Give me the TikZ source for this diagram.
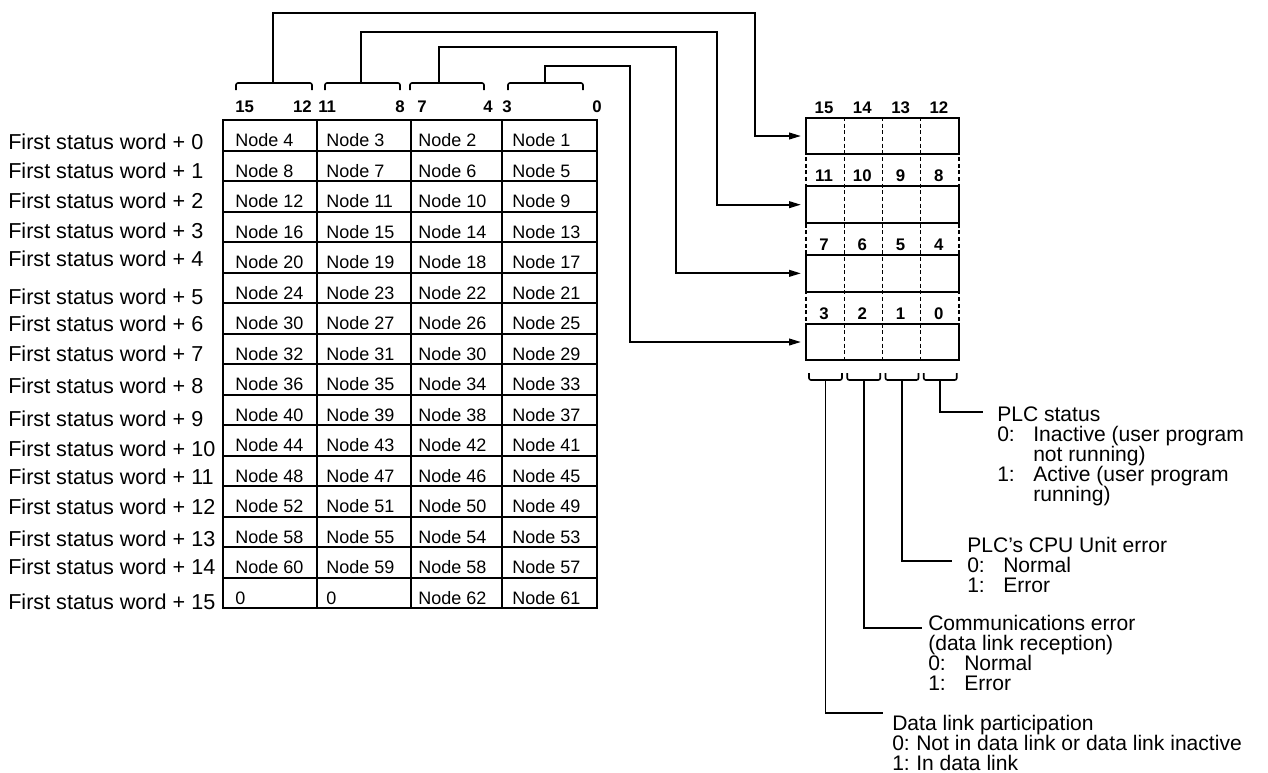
\documentclass[tikz,border=0pt]{standalone}
\usepackage{fontspec}
\setmainfont{Liberation Sans}
\usetikzlibrary{arrows.meta}
\newcommand\notefont{\fontsize{15.8}{15}\selectfont\lineskiplimit=-30pt\relax}
\newcommand\labelfont{\fontsize{16.2}{18}\selectfont}
\newcommand\cellfont{\fontsize{13.5}{16}\selectfont}
\newcommand\bitfont{\fontsize{12.6}{14}\selectfont\bfseries}
\newcommand\opt[3][27pt]{\makebox[#1][l]{#2:}#3}
\tikzset{
  grid line/.style={line width=1.5pt},
  brace line/.style={line width=1.2pt,rounded corners=1.5pt},
  feed/.style={line width=1.4pt,-{Triangle[length=9pt,width=5pt]},shorten >=3pt},
  lead/.style={line width=1.4pt},
  bitbox/.style={draw,line width=1.5pt,minimum width=114.75pt,minimum height=27.5pt,inner sep=0pt},
  dashline/.style={line width=1.1pt,dash pattern=on 3pt off 2pt},
  cell/.style={font=\cellfont,inner sep=0pt,anchor=base west},
  bitnum/.style={font=\bitfont,inner sep=0pt},
  rowlabel/.style={font=\labelfont,inner sep=0pt,anchor=base west},
  note/.style={align=left,font=\notefont,inner sep=0pt,anchor=base west}
}
\begin{document}
\begin{tikzpicture}[x=0.75pt,y=-0.75pt]
  \useasboundingbox (0,0) rectangle (1268,772);
  \draw[grid line] (223,120) rectangle (597,608);
  \foreach \x in {317,411,502} \draw[grid line] (\x,120) -- (\x,608);
  \foreach \r in {1,...,15} \draw[grid line] (223,{120+30.5*\r}) -- (597,{120+30.5*\r});
  \foreach \r/\a/\b/\c/\d in {0/Node 4/Node 3/Node 2/Node 1,1/Node 8/Node 7/Node 6/Node 5,
      2/Node 12/Node 11/Node 10/Node 9,3/Node 16/Node 15/Node 14/Node 13,
      4/Node 20/Node 19/Node 18/Node 17,5/Node 24/Node 23/Node 22/Node 21,
      6/Node 30/Node 27/Node 26/Node 25,7/Node 32/Node 31/Node 30/Node 29,
      8/Node 36/Node 35/Node 34/Node 33,9/Node 40/Node 39/Node 38/Node 37,
      10/Node 44/Node 43/Node 42/Node 41,11/Node 48/Node 47/Node 46/Node 45,
      12/Node 52/Node 51/Node 50/Node 49,13/Node 58/Node 55/Node 54/Node 53,
      14/Node 60/Node 59/Node 58/Node 57,15/0/0/Node 62/Node 61}{
    \pgfmathsetmacro\yb{120+30.5*(\r+1)-4}
    \node[cell] (n\r-a) at (235,\yb) {\a};
    \node[cell] (n\r-b) at (326,\yb) {\b};
    \node[cell] (n\r-c) at (418,\yb) {\c};
    \node[cell] (n\r-d) at (512,\yb) {\d};
  }
  \foreach \r/\yb in {0/149,1/178,2/208,3/238,4/266,5/304,6/331,7/361,8/393,9/426,
      10/456,11/484,12/514,13/546,14/574,15/609}
    \node[rowlabel] (w\r) at (8,\yb) {First status word + \r};
  \node[bitnum,anchor=base west] (t15) at (235,112) {15};
  \node[bitnum,anchor=base east] (t12) at (312,112) {12};
  \node[bitnum,anchor=base west] (t11) at (318,112) {11};
  \node[bitnum,anchor=base east] (t8) at (405,112) {8};
  \node[bitnum,anchor=base west] (t7) at (417,112) {7};
  \node[bitnum,anchor=base east] (t4) at (493,112) {4};
  \node[bitnum,anchor=base west] (t3) at (502,112) {3};
  \node[bitnum,anchor=base east] (t0) at (602,112) {0};
  \draw[brace line] (236,90) |- (273,83) -| (312,90);
  \draw[brace line] (325,90) |- (361,83) -| (400,90);
  \draw[brace line] (410,90) |- (439,83) -| (484,90);
  \draw[brace line] (508,90) |- (545,83) -| (583,90);
  \coordinate (tipA) at (273,83);
  \coordinate (tipB) at (361,83);
  \coordinate (tipC) at (439,83);
  \coordinate (tipD) at (545,83);
  \foreach \x in {806,844.25,882.5,920.75,959} \draw[dashline] (\x,117) -- (\x,360);
  \foreach \r in {0,...,3} \node[bitbox] (row\r) at (882.5,{136+68.67*\r}) {};
  \foreach \r/\a/\b/\c/\d in {0/15/14/13/12,1/11/10/9/8,2/7/6/5/4,3/3/2/1/0}{
    \node[bitnum,anchor=base] (r\r-a) at ([xshift=14.3pt,yshift=2.6pt]row\r.north west) {\a};
    \node[bitnum,anchor=base] (r\r-b) at ([xshift=43pt,yshift=2.6pt]row\r.north west) {\b};
    \node[bitnum,anchor=base] (r\r-c) at ([xshift=71.7pt,yshift=2.6pt]row\r.north west) {\c};
    \node[bitnum,anchor=base] (r\r-d) at ([xshift=100.4pt,yshift=2.6pt]row\r.north west) {\d};
  }
  \draw[feed] (tipA) |- (755,13) |- (row0.west);
  \draw[feed] (tipB) |- (717,32) |- (row1.west);
  \draw[feed] (tipC) |- (676,47) |- (row2.west);
  \draw[feed] (tipD) |- (630,66) |- (row3.west);
  \foreach \k in {0,...,3}{
    \draw[brace line] ({809+38.25*\k},373) |- ({825.5+38.25*\k},380) -| ({842+38.25*\k},373);
    \coordinate (low\k) at ({825.5+38.25*\k},380);
  }
  \node[note] (note0) at (997,501) {PLC status\\\opt{0}{Inactive (user program}\\
    \hspace*{27pt}not running)\\\opt{1}{Active (user program}\\\hspace*{27pt}running)};
  \node[note] (note1) at (967,592) {PLC's CPU Unit error\\\opt{0}{Normal}\\\opt{1}{Error}};
  \node[note] (note2) at (928,690) {Communications error\\(data link reception)\\
    \opt{0}{Normal}\\\opt{1}{Error}};
  \node[note] (note3) at (892,770) {Data link participation\\
    \opt[18pt]{0}{Not in data link or data link inactive}\\\opt[18pt]{1}{In data link}};
  \coordinate (e0) at (983,412);
  \coordinate (e1) at (952,561);
  \coordinate (e2) at (922,628);
  \coordinate (e3) at (883,713);
  \draw[lead] (low3) |- (e0);
  \draw[lead] (low2) |- (e1);
  \draw[lead] (low1) |- (e2);
  \draw[lead] (low0) |- (e3);
\end{tikzpicture}
\end{document}
